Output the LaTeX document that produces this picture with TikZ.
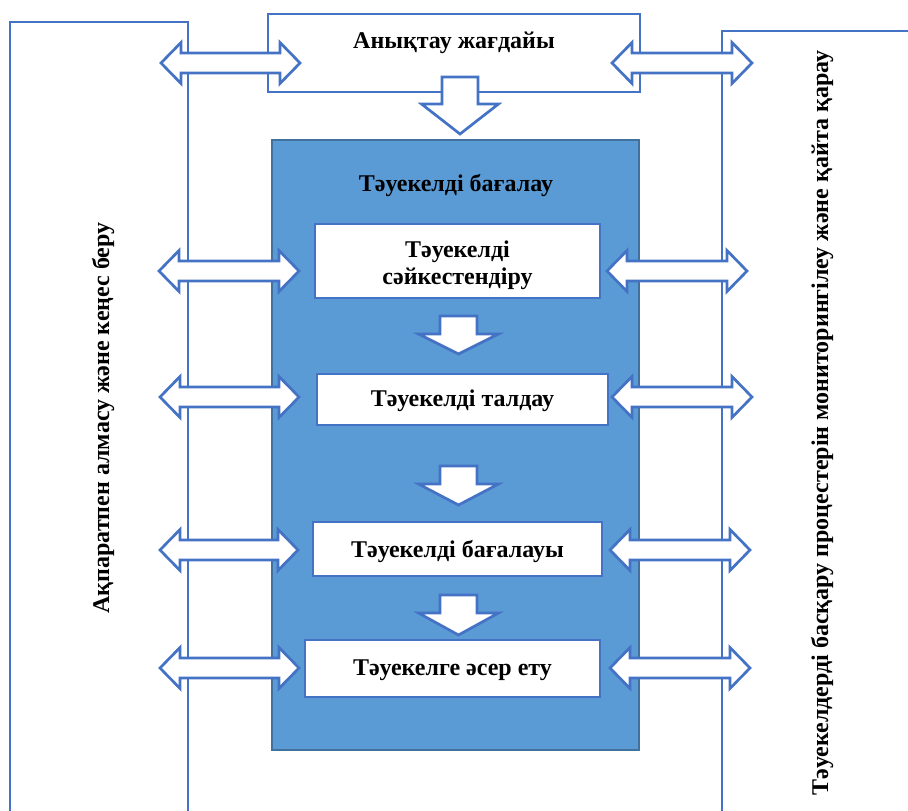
\documentclass[tikz,border=0pt]{standalone}
\usepackage{fontspec}
\setmainfont{Liberation Serif}
\definecolor{lineblue}{HTML}{4472C4}
\definecolor{fillblue}{HTML}{5B9BD5}
\definecolor{edgeblue}{HTML}{41719C}
\newcommand\dblarr[3]{%
  \filldraw[blockarrow] (#1,#3) -- ++(20,20.5) -- ++(0,-10.5) -- (#2-20,#3+10) -- ++(0,10.5) -- (#2,#3) -- ++(-20,-20.5) -- ++(0,10.5) -- (#1+20,#3-10) -- ++(0,-10.5) -- cycle;}
\newcommand\downarr[6]{% xc, ytop, yhead, ytip, shafthalf, headhalf
  \filldraw[blockarrow] (#1-#5,#2) -- (#1+#5,#2) -- (#1+#5,#3) -- (#1+#6,#3) -- (#1,#4) -- (#1-#6,#3) -- (#1-#5,#3) -- cycle;}
\begin{document}
\begin{tikzpicture}[x=1pt,y=-1pt,
  colline/.style={draw=lineblue,line width=2.7pt},
  whitebox/.style={draw=lineblue,fill=white,line width=2.7pt,inner sep=0pt},
  blockarrow/.style={draw=lineblue,fill=white,line width=2.7pt,line join=miter},
  lbl/.style={font=\fontsize{24}{30}\selectfont\bfseries,align=center,inner sep=0pt}]
\useasboundingbox (0,0) rectangle (908,811);
% side columns
\draw[colline] (188,811) -- (188,22) -- (10,22) -- (10,811);
\draw[colline] (722,811) -- (722,31) -- (908,31);
\node[lbl,rotate=90] (lefttxt) at (103,418) {Ақпаратпен алмасу және кеңес беру};
\node[lbl,rotate=90] (righttxt) at (822,423) {Тәуекелдерді басқару процестерін мониторингілеу және қайта қарау};
% top box
\node[whitebox,minimum width=372pt,minimum height=78pt] (ctx) at (454,53) {};
\node[lbl] (ctxtxt) at (454,43) {Анықтау жағдайы};
% blue block
\node[draw=edgeblue,fill=fillblue,line width=2.7pt,minimum width=367pt,minimum height=610pt,inner sep=0pt] (assess) at (455.5,445) {};
\node[lbl] (assesstxt) at (456,185) {Тәуекелді бағалау};
% inner boxes
\node[whitebox,minimum width=285pt,minimum height=74pt] (b1) at (457.5,261) {};
\node[lbl] (b1txt) at (457.5,265) {Тәуекелді\\[-3pt]сәйкестендіру};
\node[whitebox,minimum width=291pt,minimum height=51pt] (b2) at (462.5,399.5) {};
\node[lbl] (b2txt) at (462.5,401) {Тәуекелді талдау};
\node[whitebox,minimum width=289pt,minimum height=54pt] (b3) at (457.5,549) {};
\node[lbl] (b3txt) at (457.5,551) {Тәуекелді бағалауы};
\node[whitebox,minimum width=295pt,minimum height=57pt] (b4) at (452.5,668.5) {};
\node[lbl] (b4txt) at (452.5,670) {Тәуекелге әсер ету};
% down arrows
\downarr{460}{77}{104}{134}{18}{38.5}
\downarr{458.5}{316}{334}{354}{18.5}{40}
\downarr{458.5}{466}{484}{505}{18.5}{40}
\downarr{458.5}{595}{613}{635}{18.5}{40}
% double arrows
\dblarr{161}{300}{63}
\dblarr{612}{752}{63}
\dblarr{159}{299}{271}
\dblarr{607}{747}{271}
\dblarr{160}{299}{397}
\dblarr{612}{752}{397}
\dblarr{160}{298}{550}
\dblarr{610}{750}{550}
\dblarr{160}{299}{668}
\dblarr{610}{750}{668}
\end{tikzpicture}
\end{document}
